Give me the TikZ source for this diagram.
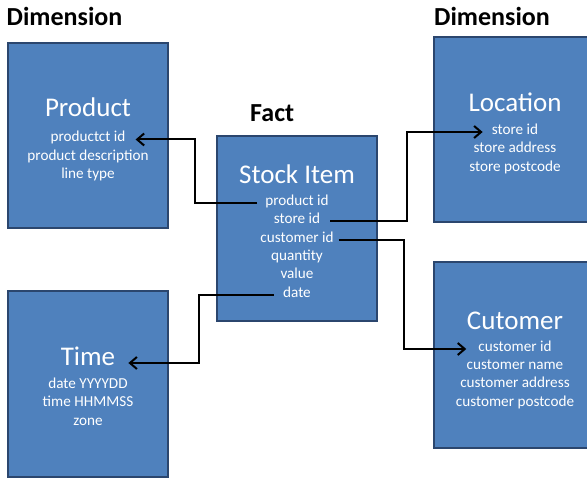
\documentclass[tikz,border=0pt]{standalone}
\usepackage{fontspec}
\setmainfont{Carlito}
\usetikzlibrary{arrows.meta}
\definecolor{boxfill}{HTML}{4F81BD}
\definecolor{boxline}{HTML}{2B466E}
\begin{document}
\begin{tikzpicture}[x=1pt,y=-1pt,
  box/.style={draw=boxline, fill=boxfill, line width=2.8pt, inner sep=0pt},
  title/.style={font=\fontsize{27}{32}\selectfont, text=white, anchor=base, inner sep=0pt, text height=0.75em, text depth=0.25em},
  field/.style={font=\fontsize{15.2}{18}\selectfont, text=white, anchor=base, inner sep=0pt, text height=0.75em, text depth=0.25em},
  head/.style={font=\bfseries\fontsize{26}{31}\selectfont, text=black, anchor=base west, inner sep=0pt},
  conn/.style={line width=2pt, -{Straight Barb[length=7pt,width=12pt]}}]
\useasboundingbox (0,0) rectangle (587,478);
% headings
\node[head] (hd1) at (6.5,26) {Dimension};
\node[head] (hd2) at (434,26) {Dimension};
\node[head] (hfact) at (250,122) {Fact};
% boxes
\node[box, minimum width=160pt, minimum height=185pt] (prod) at (88,135.5) {};
\node[box, minimum width=160pt, minimum height=185pt] (stock) at (297,228.5) {};
\node[box, minimum width=160pt, minimum height=186pt] (time) at (88,384) {};
\node[box, minimum width=162pt, minimum height=185pt] (loc) at (515,129.5) {};
\node[box, minimum width=162pt, minimum height=186pt] (cust) at (515,355) {};
% product
\node[title] (ptitle) at (88,117) {Product};
\node[field] (ppid) at (88,142) {productct id};
\node[field] (pdesc) at (88,160.5) {product description};
\node[field] (pline) at (88,179) {line type};
% stock item
\node[title] (stitle) at (297,183.5) {Stock Item};
\node[field] (spid) at (297,206) {product id};
\node[field] (ssid) at (297,224) {store id};
\node[field] (scid) at (297,242.5) {customer id};
\node[field] (sqty) at (297,261) {quantity};
\node[field] (sval) at (297,279) {value};
\node[field] (sdate) at (297,297.5) {date};
% location
\node[title] (ltitle) at (515,112) {Location};
\node[field] (lsid) at (515,134.5) {store id};
\node[field] (laddr) at (515,153) {store address};
\node[field] (lpc) at (515,171.5) {store postcode};
% customer
\node[title] (ctitle) at (515,329.5) {Cutomer};
\node[field] (ccid) at (515,351.5) {customer id};
\node[field] (cname) at (515,369.5) {customer name};
\node[field] (caddr) at (515,388) {customer address};
\node[field] (cpc) at (515,406.5) {customer postcode};
% time
\node[title] (ttitle) at (88,365.5) {Time};
\node[field] (tdate) at (88,389) {date YYYYDD};
\node[field] (ttime) at (88,407) {time HHMMSS};
\node[field] (tzone) at (88,425.5) {zone};
% connectors
\draw[conn] ([xshift=-8pt]spid.west) -- ++(-62,0) |- ([xshift=10pt]ppid.east);
\draw[conn] ([xshift=10pt]ssid.east) -- ++(77,0) |- ([xshift=-9pt]lsid.west);
\draw[conn] ([xshift=5pt]scid.east) -- ++(65,0) |- ([xshift=-12pt]ccid.west);
\draw[conn] ([xshift=-9pt]sdate.west) -- ++(-75,0) |- ([xshift=13pt]ttitle.east);
\end{tikzpicture}
\end{document}
